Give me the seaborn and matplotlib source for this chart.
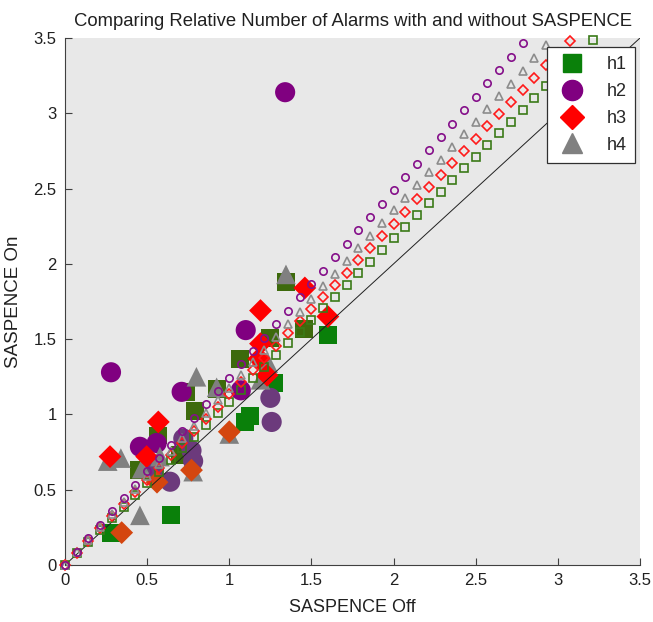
import matplotlib
matplotlib.use("Agg")
import matplotlib.pyplot as plt
from matplotlib.lines import Line2D
import numpy as np
import pandas as pd
import seaborn as sns

# ---------------- data ----------------
title = "Comparing Relative Number of Alarms with and without SASPENCE"
xlabel = "SASPENCE Off"
ylabel = "SASPENCE On"
ticks = [0, 0.5, 1, 1.5, 2, 2.5, 3, 3.5]
tick_labels = ["0", "0.5", "1", "1.5", "2", "2.5", "3", "3.5"]
series = ["h1", "h2", "h3", "h4"]

# filled markers (SASPENCE Off, SASPENCE On), two shades per series
h1_bright_x = [0.28, 0.645, 1.60, 1.126, 1.095, 1.27]
h1_bright_y = [0.21, 0.33, 1.53, 0.99, 0.95, 1.21]
h1_dark_x = [0.79, 0.566, 0.70, 0.45, 0.74, 0.925, 1.065, 1.25, 1.455, 1.345]
h1_dark_y = [1.02, 0.86, 0.73, 0.63, 1.15, 1.17, 1.37, 1.51, 1.57, 1.88]

h2_bright_x = [1.34, 0.28, 1.10, 0.71, 0.456, 0.558, 1.07]
h2_bright_y = [3.14, 1.28, 1.56, 1.15, 0.785, 0.81, 1.16]
h2_dark_x = [1.25, 1.258, 0.72, 0.78, 0.64, 0.77, 0.54]
h2_dark_y = [1.11, 0.95, 0.84, 0.69, 0.553, 0.76, 0.63]

h3_bright_x = [1.46, 1.19, 1.60, 1.19, 1.18, 1.23, 0.568, 0.274, 0.497]
h3_bright_y = [1.84, 1.69, 1.65, 1.47, 1.37, 1.26, 0.95, 0.72, 0.72]
h3_dark_x = [1.00, 0.77, 0.345, 0.56]
h3_dark_y = [0.885, 0.63, 0.215, 0.55]

h4_x = [1.345, 1.237, 1.19, 0.80, 0.923, 0.26, 0.34, 0.467, 0.578, 0.456, 1.0, 0.78]
h4_y = [1.93, 1.34, 1.23, 1.25, 1.18, 0.69, 0.71, 0.64, 0.72, 0.33, 0.87, 0.62]

# fitted ratio lines drawn with hollow markers
fit_x = [0, 0.071, 0.143, 0.214, 0.286, 0.357, 0.429, 0.5, 0.571, 0.643,
         0.714, 0.786, 0.857, 0.929, 1.0, 1.071, 1.143, 1.214, 1.286, 1.357,
         1.429, 1.5, 1.571, 1.643, 1.714, 1.786, 1.857, 1.929, 2.0, 2.071,
         2.143, 2.214, 2.286, 2.357, 2.429, 2.5, 2.571, 2.643, 2.714, 2.786,
         2.857, 2.929, 3.0, 3.071, 3.143, 3.214, 3.286, 3.357, 3.429, 3.5]
fit_slope = {"h1": 1.085, "h2": 1.244, "h3": 1.133, "h4": 1.178}
ref_line_x = [0, 3.5]
ref_line_y = [0, 3.5]

# ---------------- style ----------------
sns.set_theme(style="ticks")
plt.rcParams["font.family"] = ["Liberation Sans", "DejaVu Sans"]

markers = {"h1": "s", "h2": "o", "h3": "D", "h4": "^"}
sizes = {"h1": 165, "h2": 210, "h3": 135, "h4": 200}
bright = {"h1": "#0a800a", "h2": "#800080", "h3": "#ff0000", "h4": "#808080"}
dark = {"h1": "#3d6a0c", "h2": "#6c3a7c", "h3": "#d4460f", "h4": "#808080"}
hollow = {"h1": "#3a7a18", "h2": "#85108a", "h3": "#ff1a1a", "h4": "#8c8c8c"}

fig = plt.figure(figsize=(6.53, 6.22), dpi=100)
ax = fig.add_axes([65 / 653, 57 / 622, 575 / 653, 527 / 622])
ax.set_facecolor("#e8e8e8")

filled = [
    ("h1", h1_dark_x, h1_dark_y, dark["h1"]),
    ("h1", h1_bright_x, h1_bright_y, bright["h1"]),
    ("h2", h2_dark_x, h2_dark_y, dark["h2"]),
    ("h2", h2_bright_x, h2_bright_y, bright["h2"]),
    ("h4", h4_x, h4_y, bright["h4"]),
    ("h3", h3_dark_x, h3_dark_y, dark["h3"]),
    ("h3", h3_bright_x, h3_bright_y, bright["h3"]),
]
for name, xs, ys, col in filled:
    df = pd.DataFrame({"x": xs, "y": ys})
    sns.scatterplot(data=df, x="x", y="y", ax=ax, marker=markers[name],
                    s=sizes[name], color=col, edgecolor="none", linewidth=0,
                    zorder=3, legend=False)

sns.lineplot(x=ref_line_x, y=ref_line_y, ax=ax, color="#202020", lw=0.7,
             zorder=4, legend=False)

for name in ["h1", "h3", "h4", "h2"]:
    fx = np.array(fit_x)
    fy = fit_slope[name] * fx
    keep = fy <= 3.5
    df = pd.DataFrame({"x": fx[keep], "y": fy[keep]})
    sns.lineplot(data=df, x="x", y="y", ax=ax, estimator=None, sort=False,
                 linestyle="none", marker=markers[name],
                 mfc="none", mec=hollow[name], ms=5.3, mew=1.2,
                 clip_on=False, zorder=5, legend=False)

ax.set_xlim(0, 3.5)
ax.set_ylim(0, 3.5)
ax.set_xticks(ticks)
ax.set_xticklabels(tick_labels)
ax.set_yticks(ticks)
ax.set_yticklabels(tick_labels)
ax.tick_params(direction="in", length=5, width=0.8, color="#404040",
               labelsize=12, labelcolor="#202020", pad=6)
for side in ["top", "right"]:
    ax.spines[side].set_visible(False)
for side in ["left", "bottom"]:
    ax.spines[side].set_color("#404040")
    ax.spines[side].set_linewidth(0.8)

ax.set_title(title, fontsize=13.3, color="#202020", pad=9)
ax.set_xlabel(xlabel, fontsize=13, color="#202020", labelpad=8)
ax.set_ylabel(ylabel, fontsize=13.5, color="#202020", labelpad=8)

handles = [Line2D([], [], linestyle="none", marker=markers[n], color=bright[n],
                  markersize={"h1": 13, "h2": 14.5, "h3": 12, "h4": 14}[n])
           for n in series]
leg = ax.legend(handles, series, loc="upper right", bbox_to_anchor=(0.992, 0.983),
                fontsize=13, frameon=True, fancybox=False, framealpha=1,
                edgecolor="#303030", borderpad=0.5, labelspacing=0.55,
                handletextpad=1.0, handlelength=1.8, borderaxespad=0)
leg.get_frame().set_linewidth(0.9)
leg.set_zorder(10)

fig.savefig("out.png", dpi=100, facecolor="white")
